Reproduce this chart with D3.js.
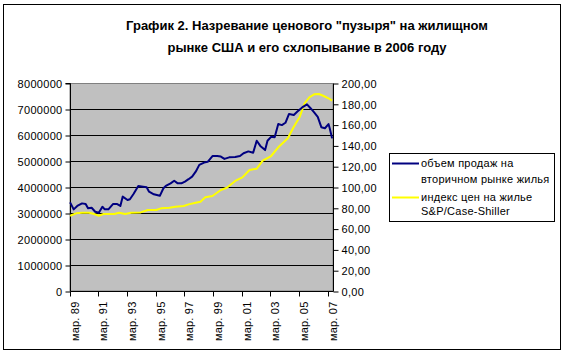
<!DOCTYPE html>
<html><head><meta charset="utf-8">
<script src="https://cdn.jsdelivr.net/npm/d3@7"></script>
<style>html,body{margin:0;padding:0;background:#fff}svg{display:block}text{font-family:"Liberation Sans",Arial,sans-serif}</style>
</head><body><div id="chart"></div>
<script>
const titleLines = ['График 2. Назревание ценового "пузыря" на жилищном', 'рынке США и его схлопывание в 2006 году'];
const firstMonth = "1989-03", lastMonth = "2007-06";
const tickLabels = ["мар. 89","мар. 91","мар. 93","мар. 95","мар. 97","мар. 99","мар. 01","мар. 03","мар. 05","мар. 07"];
const leftTicks = [0,1000000,2000000,3000000,4000000,5000000,6000000,7000000,8000000];
const rightTicks = [0,20,40,60,80,100,120,140,160,180,200];
const seriesNames = ["объем продаж на|вторичном рынке жилья","индекс цен на жилье|S&P/Case-Shiller"];
const salesMonths = ["1989-03","1989-06","1989-09","1990-01","1990-04","1990-06","1990-09","1990-12","1991-03","1991-06","1991-08","1991-11","1992-03","1992-06","1992-09","1992-11","1993-03","1993-05","1993-08","1993-12","1994-04","1994-07","1994-09","1995-01","1995-06","1995-09","1995-11","1996-03","1996-06","1996-09","1996-12","1997-03","1997-06","1997-09","1997-12","1998-03","1998-07","1998-10","1999-02","1999-06","1999-09","1999-12","2000-04","2000-09","2001-01","2001-04","2001-08","2001-12","2002-03","2002-06","2002-10","2002-12","2003-03","2003-06","2003-09","2003-12","2004-03","2004-06","2004-10","2005-01","2005-05","2005-09","2005-12","2006-03","2006-06","2006-09","2006-12","2007-03","2007-04","2007-06"];
const salesValues = [3410000,3140000,3270000,3370000,3350000,3180000,3200000,3050000,3010000,3240000,3140000,3140000,3350000,3350000,3270000,3630000,3500000,3530000,3730000,4040000,4010000,3990000,3820000,3720000,3660000,3950000,4040000,4140000,4240000,4140000,4140000,4210000,4300000,4400000,4590000,4850000,4940000,4970000,5190000,5190000,5170000,5080000,5140000,5150000,5190000,5300000,5370000,5320000,5780000,5580000,5420000,5780000,5930000,5910000,6420000,6380000,6470000,6810000,6770000,6900000,7060000,7180000,7030000,6870000,6700000,6300000,6260000,6420000,6260000,5870000];
const priceMonths = ["1989-03","1989-08","1990-01","1990-07","1990-11","1991-03","1991-07","1992-04","1992-08","1993-01","1993-06","1994-02","1994-08","1995-03","1995-07","1996-02","1996-07","1997-02","1997-06","1997-12","1998-04","1998-08","1999-02","1999-09","2000-02","2000-09","2001-03","2001-09","2002-03","2002-08","2003-03","2003-09","2004-05","2004-10","2005-03","2005-07","2005-11","2006-03","2006-07","2006-11","2007-03","2007-06"];
const priceValues = [72.4,74.7,75.3,75.3,74.0,72.4,74.0,74.0,75.3,74.0,75.3,75.6,77.9,77.9,79.5,80.1,81.1,81.7,83.3,84.9,85.9,90.1,91.3,97.1,99.3,105.8,109.3,116.3,117.6,125.3,129.8,138.2,146.8,158.0,167.6,180.5,186.3,189.1,189.4,187.5,185.3,183.0];

const W = 565, H = 356;
const plot = {left:70, right:333, top:83, bottom:291};
const mIdx = s => { const [y,m] = s.split("-").map(Number); const [y0,m0] = firstMonth.split("-").map(Number); return (y-y0)*12 + (m-m0); };
const nCat = mIdx(lastMonth) + 1;

const svg = d3.select("#chart").append("svg").attr("width", W).attr("height", H);
svg.append("rect").attr("x",3.5).attr("y",4.5).attr("width",557).attr("height",345).attr("fill","#fff").attr("stroke","#000").attr("stroke-width",1);

const title = svg.append("text").attr("text-anchor","middle").attr("font-weight","bold").attr("font-size",13).attr("fill","#000");
title.append("tspan").attr("x",307).attr("y",30).text(titleLines[0]);
title.append("tspan").attr("x",307).attr("y",52).text(titleLines[1]);

const x = d3.scaleLinear().domain([0, nCat]).range([plot.left - 0.5, plot.right - 0.3]);
const yL = d3.scaleLinear().domain([0, 8000000]).range([plot.bottom, plot.top]);
const yR = d3.scaleLinear().domain([0, 200]).range([plot.bottom, plot.top]);

svg.append("rect").attr("x",plot.left).attr("y",plot.top+0.5).attr("width",plot.right-plot.left).attr("height",plot.bottom-plot.top-0.5)
  .attr("fill","#c0c0c0").attr("stroke","#808080").attr("stroke-width",1);

// gridlines
svg.append("g").selectAll("line").data(leftTicks.filter(d=>d>0 && d<8000000)).join("line")
  .attr("x1",plot.left).attr("x2",plot.right).attr("y1",d=>Math.round(yL(d))+0.5).attr("y2",d=>Math.round(yL(d))+0.5)
  .attr("stroke","#000").attr("stroke-width",1);

// left axis
const axL = d3.axisLeft(yL).tickValues(leftTicks).tickSize(5).tickPadding(3).tickFormat(d3.format("d"));
const gL = svg.append("g").attr("transform",`translate(${plot.left+0.5},0.5)`).call(axL);
gL.select(".domain").attr("d",`M-5,${plot.top}H0V${plot.bottom}`).attr("stroke","#000");
gL.selectAll("text").attr("font-size",11).attr("font-family","Liberation Sans, Arial, sans-serif").attr("letter-spacing","0.3px").attr("fill","#000").attr("dy","0.35em").attr("x",-8);

// right axis
const fmtR = d => d3.format(".2f")(d).replace(".", ",");
const axR = d3.axisRight(yR).tickValues(rightTicks).tickSize(5).tickPadding(3).tickFormat(fmtR);
const gR = svg.append("g").attr("transform",`translate(${plot.right+0.5},0.5)`).call(axR);
gR.select(".domain").attr("d",`M0,${plot.top}V${plot.bottom}`).attr("stroke","#000");
gR.selectAll("text").attr("font-size",11).attr("font-family","Liberation Sans, Arial, sans-serif").attr("letter-spacing","0.3px").attr("fill","#000").attr("dy","0.35em").attr("x",8);

// bottom axis
const tickIdx = tickLabels.map((_,i)=>i*24);
const gB = svg.append("g").attr("transform",`translate(0.5,${plot.bottom+0.5})`);
gB.append("line").attr("x1",plot.left).attr("x2",plot.right).attr("y1",0).attr("y2",0).attr("stroke","#000");
gB.selectAll("line.t").data(tickIdx).join("line").attr("class","t")
  .attr("x1",d=>Math.round(x(d))).attr("x2",d=>Math.round(x(d))).attr("y1",0).attr("y2",5).attr("stroke","#000");
gB.selectAll("text").data(tickLabels).join("text")
  .attr("transform",(d,i)=>`translate(${Math.round(x(tickIdx[i]))+8},10) rotate(-90)`)
  .attr("text-anchor","end").attr("font-size",11).attr("letter-spacing","0.2px").attr("fill","#000").text(d=>d);

// lines
const sales = salesMonths.map((m,i)=>({i:mIdx(m), v:salesValues[i]}));
const price = priceMonths.map((m,i)=>({i:mIdx(m), v:priceValues[i]}));
svg.append("path").datum(price).attr("fill","none").attr("stroke","#ffff00").attr("stroke-width",2).attr("stroke-linejoin","round")
  .attr("d", d3.line().x(d=>x(d.i+0.5)).y(d=>yR(d.v)));
svg.append("path").datum(sales).attr("fill","none").attr("stroke","#000080").attr("stroke-width",2).attr("stroke-linejoin","round")
  .attr("d", d3.line().x(d=>x(d.i+0.5)).y(d=>yL(d.v)));

// legend
const lg = svg.append("g");
lg.append("rect").attr("x",389.5).attr("y",153.5).attr("width",165).attr("height",68).attr("fill","#fff").attr("stroke","#000");
const colors = ["#000080","#ffff00"];
const lineY = [163.5, 197.5];
const baseY = [[167,183],[201,215]];
seriesNames.forEach((n,k)=>{
  lg.append("line").attr("x1",392).attr("x2",419).attr("y1",lineY[k]).attr("y2",lineY[k]).attr("stroke",colors[k]).attr("stroke-width",2);
  n.split("|").forEach((t,j)=>{
    lg.append("text").attr("x",421).attr("y",baseY[k][j]).attr("font-size",11).attr("letter-spacing","0.25px").attr("fill","#000").text(t);
  });
});
</script></body></html>
